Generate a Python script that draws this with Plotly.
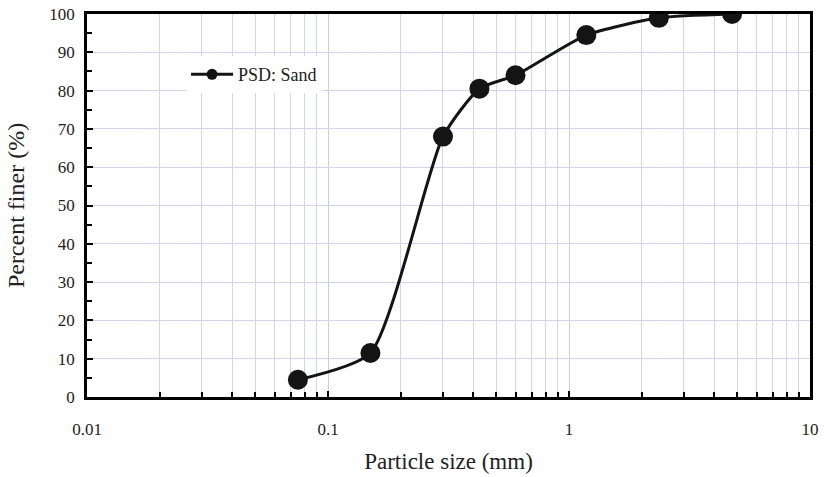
import plotly.graph_objects as go

particle_size_mm = [0.075, 0.15, 0.3, 0.425, 0.6, 1.18, 2.36, 4.75]
percent_finer = [4.5, 11.5, 68, 80.5, 84, 94.5, 99, 100]
x_tick_vals = [0.01, 0.1, 1, 10]
x_tick_text = ["0.01", "0.1", "1", "10"]
series_name = "PSD: Sand"

LAV = "#d2d2f5"
FONT = "Liberation Serif"
INK = "#141414"

fig = go.Figure()
fig.add_trace(go.Scatter(
    x=particle_size_mm, y=percent_finer, mode="lines+markers",
    name=series_name, showlegend=False,
    line=dict(color=INK, width=3, shape="spline", smoothing=0.6),
    marker=dict(color=INK, size=20),
))
# legend-only entry (no data drawn) to get the small legend symbol
fig.add_trace(go.Scatter(
    x=[None], y=[None], mode="lines+markers", name=series_name,
    line=dict(color=INK, width=3), marker=dict(color=INK, size=11),
))

fig.update_layout(
    width=825, height=477,
    margin=dict(l=87, r=15, t=14, b=80),
    paper_bgcolor="white", plot_bgcolor="white",
    font=dict(family=FONT, size=17, color="#222"),
    showlegend=True,
    legend=dict(x=0.137, y=0.89, xanchor="left", yanchor="top",
                bgcolor="white", borderwidth=0, font=dict(size=18, family=FONT, color="#222"),
                itemwidth=42),
)
fig.update_xaxes(
    type="log", range=[-2, 1], automargin=False,
    tickvals=x_tick_vals, ticktext=x_tick_text,
    ticks="inside", ticklen=6, tickwidth=2, tickcolor="black",
    showgrid=True, gridcolor="#cfcfcf", gridwidth=1,
    minor=dict(dtick="D1", ticks="inside", ticklen=5, tickwidth=2, tickcolor="black",
               showgrid=True, gridcolor=LAV, gridwidth=1),
    showline=True, linecolor="black", linewidth=2.5, mirror=True,
    zeroline=False,
    tickfont=dict(size=17, family=FONT, color="#222"),
    ticklabelstandoff=15,
    title=dict(text="Particle size (mm)", font=dict(size=23, family=FONT, color="#222"), standoff=15),
)
fig.update_yaxes(
    range=[0, 100], dtick=10, automargin=False,
    ticks="inside", ticklen=6, tickwidth=2, tickcolor="black",
    showgrid=True, gridcolor=LAV, gridwidth=1,
    minor=dict(dtick=5, ticks="inside", ticklen=5, tickwidth=2, tickcolor="black", showgrid=False),
    showline=True, linecolor="black", linewidth=2.5, mirror=True,
    zeroline=False,
    tickfont=dict(size=17, family=FONT, color="#222"),
    ticklabelstandoff=6,
    title=dict(text="Percent finer (%)", font=dict(size=24, family=FONT, color="#222"), standoff=18),
)

fig.write_html(
    "out.html",
    config={"displayModeBar": False},
    post_script="document.body.style.margin='0';document.body.style.overflow='hidden';",
)
